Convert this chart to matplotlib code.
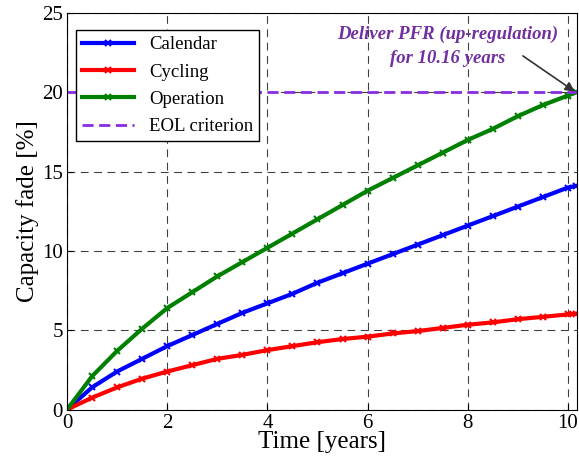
import numpy as np
import matplotlib
matplotlib.use("Agg")
import matplotlib.pyplot as plt

# valores (anos, % de perdida de capacidad)
years = [0, 0.5, 1, 1.5, 2, 2.5, 3, 3.5, 4, 4.5, 5, 5.5, 6, 6.5, 7, 7.5,
         8, 8.5, 9, 9.5, 10, 10.16]
calendar = [0, 1.4, 2.4, 3.2, 4.0, 4.7, 5.4, 6.1, 6.7, 7.3, 8.0, 8.6, 9.2,
            9.8, 10.4, 11.0, 11.6, 12.2, 12.8, 13.4, 14.0, 14.1]
cycling = [0, 0.75, 1.4, 1.95, 2.4, 2.8, 3.2, 3.45, 3.75, 4.0, 4.25, 4.45,
           4.6, 4.8, 4.95, 5.15, 5.35, 5.5, 5.7, 5.85, 6.0, 6.05]
operation = [0, 2.1, 3.7, 5.1, 6.4, 7.4, 8.4, 9.3, 10.2, 11.1, 12.0, 12.9,
             13.8, 14.6, 15.4, 16.2, 17.0, 17.7, 18.5, 19.2, 19.8, 20.0]
eol = 20
x_ticks = [0, 2, 4, 6, 8, 10]
y_ticks = [0, 5, 10, 15, 20, 25]

plt.rcParams['font.family'] = ['Liberation Serif', 'DejaVu Serif']

fig = plt.figure(figsize=(5.79, 4.67), dpi=100)
ax = fig.add_axes([0.1157, 0.1229, 0.8808, 0.8491])

ax.plot(years, calendar, '-x', color='blue', lw=3, ms=5, mew=1.5, label='Calendar')
ax.plot(years, cycling, '-x', color='red', lw=3, ms=5, mew=1.5, label='Cycling')
ax.plot(years, operation, '-x', color='green', lw=3, ms=5, mew=1.5, label='Operation')
ax.axhline(eol, color='#8A2BE2', ls='--', lw=2, dashes=(4, 2), label='EOL criterion')

ax.set_xlim(0, 10.18)
ax.set_ylim(0, 25)
ax.set_xticks(x_ticks)
ax.set_yticks(y_ticks)
ax.tick_params(direction='in', labelsize=15, length=4, pad=3)
ax.grid(True, color='black', ls=(0, (7, 5)), lw=0.8, alpha=0.75)
ax.set_xlabel('Time [years]', fontsize=18, labelpad=-1)
ax.set_ylabel('Capacity fade [%]', fontsize=18, labelpad=2)

leg = ax.legend(loc='upper left', fontsize=13.5, fancybox=False, framealpha=1,
                edgecolor='black', handlelength=2.8, borderpad=0.3,
                labelspacing=0.55, bbox_to_anchor=(0.0, 0.98))
leg.get_frame().set_linewidth(1)

ax.text(7.6, 22.9, 'Deliver PFR (up-regulation)\nfor 10.16 years',
        ha='center', va='center', linespacing=1.55,
        fontsize=13.5, fontweight='bold', fontstyle='italic', color='#7030A0')
ax.annotate('', xy=(10.16, 20), xytext=(9.1, 22.3),
            arrowprops=dict(arrowstyle='-|>', color='#333333', lw=1.2,
                            shrinkA=0, shrinkB=1, mutation_scale=14))

fig.savefig('out.png', dpi=100)
